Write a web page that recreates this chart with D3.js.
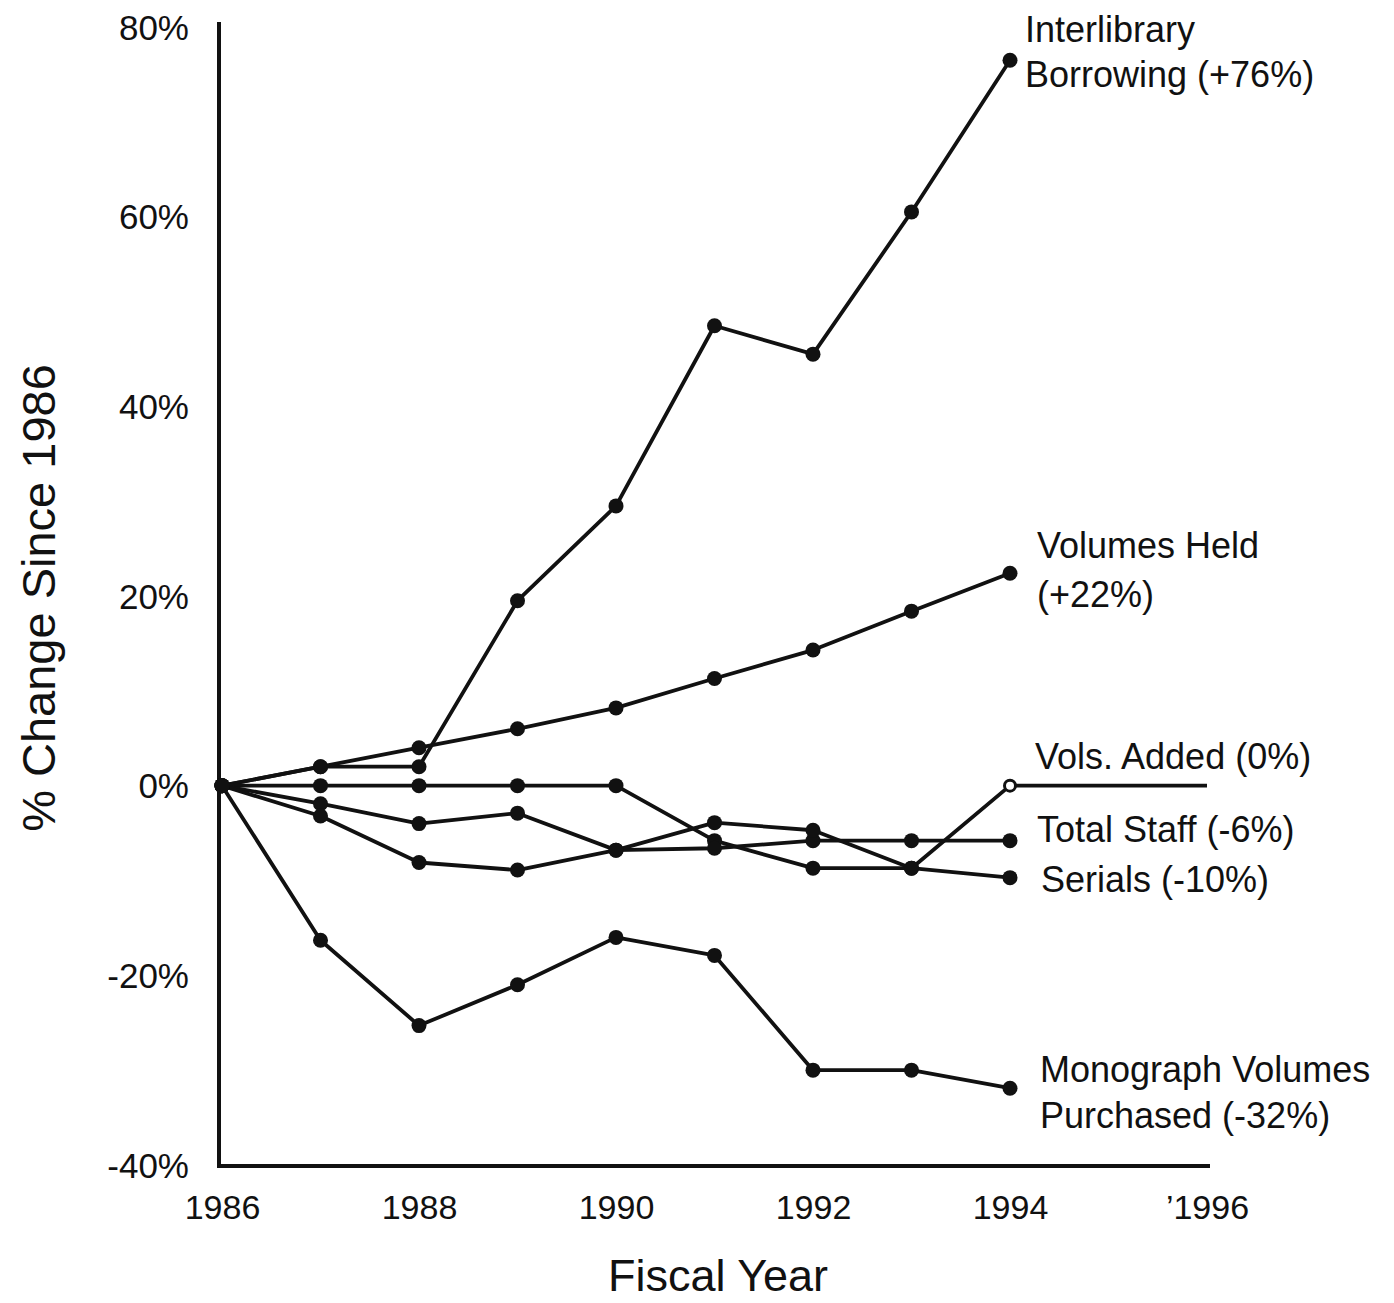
<!DOCTYPE html>
<html>
<head>
<meta charset="utf-8">
<script src="https://cdn.jsdelivr.net/npm/d3@7"></script>
<style>
  html, body { margin: 0; padding: 0; background: #fff; }
  svg text { font-family: "Liberation Sans", Arial, Helvetica, sans-serif; fill: #111; }
</style>
</head>
<body>
<svg id="chart" width="1394" height="1303"></svg>
<script>
// ---- data ----
const years = [1986, 1987, 1988, 1989, 1990, 1991, 1992, 1993, 1994];
const xTickValues = [1986, 1988, 1990, 1992, 1994, 1996];
const xTickLabels = ["1986", "1988", "1990", "1992", "1994", "\u20191996"];
const yTickValues = [-40, -20, 0, 20, 40, 60, 80];

const interlibraryBorrowing = [0, 2, 2, 19.5, 29.5, 48.5, 45.5, 60.5, 76.5];
const volumesHeld           = [0, 2, 4, 6, 8.2, 11.3, 14.3, 18.4, 22.4];
const volsAdded             = [0, 0, 0, 0, 0, -5.8, -8.7, -8.7, 0];
const totalStaff            = [0, -1.9, -4, -2.9, -6.8, -6.6, -5.8, -5.8, -5.8];
const serials               = [0, -3.2, -8.1, -8.9, -6.8, -3.9, -4.7, -8.7, -9.7];
const monographVolumes      = [0, -16.3, -25.3, -21, -16, -17.9, -30, -30, -31.9];

const seriesNames = ["Interlibrary Borrowing", "Volumes Held", "Vols. Added", "Total Staff", "Serials", "Monograph Volumes Purchased"];
const seriesValues = [interlibraryBorrowing, volumesHeld, volsAdded, totalStaff, serials, monographVolumes];
const seriesLabels = [
  ["Interlibrary", "Borrowing (+76%)"],
  ["Volumes Held", "(+22%)"],
  ["Vols. Added (0%)"],
  ["Total Staff (-6%)"],
  ["Serials (-10%)"],
  ["Monograph Volumes", "Purchased (-32%)"]
];

// ---- layout ----
const svg = d3.select("#chart");
const x = d3.scaleLinear().domain([1986, 1996]).range([222, 1207]);
const y = d3.scaleLinear().domain([-40, 80]).range([1165, 27]);

const ink = "#111";

// axes
const yAxis = d3.axisLeft(y).tickValues(yTickValues).tickSize(0).tickPadding(31)
  .tickFormat(d => d + "%");
const yg = svg.append("g").attr("transform", "translate(220,0)").call(yAxis);
yg.select(".domain").remove();
yg.selectAll("text").style("font-size", "35px").attr("dy", "0.35em");

const xAxis = d3.axisBottom(x).tickValues(xTickValues).tickSize(0).tickPadding(29)
  .tickFormat((d, i) => xTickLabels[i]);
const xg = svg.append("g").attr("transform", "translate(0,1166)").call(xAxis);
xg.select(".domain").remove();
xg.selectAll("text").style("font-size", "34px").attr("dy", "0.71em");

// axis lines
svg.append("line").attr("x1", 219).attr("x2", 219).attr("y1", 22).attr("y2", 1168)
  .attr("stroke", ink).attr("stroke-width", 4);
svg.append("line").attr("x1", 217).attr("x2", x(1996) + 3).attr("y1", 1166).attr("y2", 1166)
  .attr("stroke", ink).attr("stroke-width", 4);

// zero reference extension for Vols. Added
svg.append("line").attr("x1", x(1994)).attr("x2", x(1996)).attr("y1", y(0)).attr("y2", y(0))
  .attr("stroke", ink).attr("stroke-width", 3.8);

// axis titles
svg.append("text").attr("x", 718).attr("y", 1291).attr("text-anchor", "middle")
  .style("font-size", "45px").text("Fiscal Year");
svg.append("text").attr("transform", "translate(55,598) rotate(-90)").attr("text-anchor", "middle")
  .style("font-size", "47px").text("% Change Since 1986");

// lines
const line = d3.line().x((d, i) => x(years[i])).y(d => y(d));
seriesValues.forEach((vals, si) => {
  svg.append("path").datum(vals).attr("d", line)
    .attr("fill", "none").attr("stroke", ink).attr("stroke-width", 3.8)
    .attr("stroke-linejoin", "round");
});

// dots
seriesValues.forEach((vals, si) => {
  svg.append("g").selectAll("circle").data(vals).join("circle")
    .attr("cx", (d, i) => x(years[i]))
    .attr("cy", d => y(d))
    .attr("r", (d, i) => (si === 2 && i === 8) ? 5.5 : 7.5)
    .attr("fill", (d, i) => (si === 2 && i === 8) ? "#fff" : ink)
    .attr("stroke", ink)
    .attr("stroke-width", (d, i) => (si === 2 && i === 8) ? 3 : 0);
});

// end labels
const labelPos = [
  { x: 1025, y: [42, 87] },
  { x: 1037, y: [558, 607] },
  { x: 1035, y: [769] },
  { x: 1037, y: [842] },
  { x: 1041, y: [892] },
  { x: 1040, y: [1082, 1128] }
];
seriesLabels.forEach((lines, si) => {
  lines.forEach((t, li) => {
    svg.append("text").attr("x", labelPos[si].x).attr("y", labelPos[si].y[li])
      .style("font-size", "36px").text(t);
  });
});
</script>
</body>
</html>
